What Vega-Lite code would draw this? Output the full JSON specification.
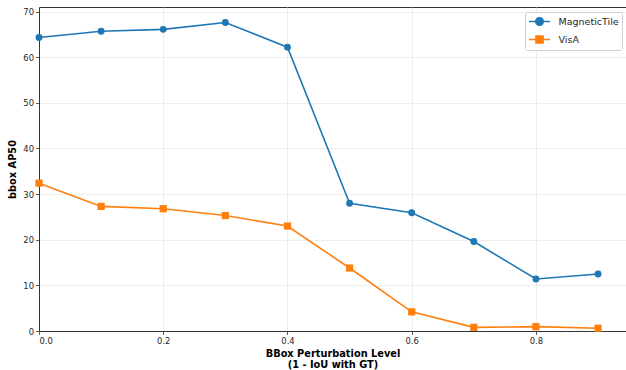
{
  "$schema": "https://vega.github.io/schema/vega-lite/v6.json",
  "width": 587,
  "height": 324,
  "autosize": {"type": "none"},
  "padding": {"left": 39, "top": 7, "right": 0, "bottom": 39},
  "background": "white",
  "config": {
    "font": "DejaVu Sans",
    "view": {"stroke": "#333333", "strokeWidth": 1},
    "axis": {
      "labelFont": "DejaVu Sans",
      "labelFontSize": 8.4,
      "labelColor": "#262626",
      "domainColor": "#333333",
      "domainWidth": 1,
      "tickColor": "#333333",
      "tickSize": 3.5,
      "tickWidth": 0.8,
      "gridColor": "#e8e8e8",
      "gridWidth": 0.8,
      "titleFont": "DejaVu Sans",
      "titleFontWeight": "bold",
      "titleFontSize": 9.8,
      "titleColor": "#000000"
    }
  },
  "data": {
    "values": [
      {"level": 0.0, "ap": 64.3, "dataset": "MagneticTile"},
      {"level": 0.1, "ap": 65.7, "dataset": "MagneticTile"},
      {"level": 0.2, "ap": 66.1, "dataset": "MagneticTile"},
      {"level": 0.3, "ap": 67.6, "dataset": "MagneticTile"},
      {"level": 0.4, "ap": 62.2, "dataset": "MagneticTile"},
      {"level": 0.5, "ap": 28.0, "dataset": "MagneticTile"},
      {"level": 0.6, "ap": 25.9, "dataset": "MagneticTile"},
      {"level": 0.7, "ap": 19.6, "dataset": "MagneticTile"},
      {"level": 0.8, "ap": 11.4, "dataset": "MagneticTile"},
      {"level": 0.9, "ap": 12.5, "dataset": "MagneticTile"},
      {"level": 0.0, "ap": 32.4, "dataset": "VisA"},
      {"level": 0.1, "ap": 27.3, "dataset": "VisA"},
      {"level": 0.2, "ap": 26.8, "dataset": "VisA"},
      {"level": 0.3, "ap": 25.3, "dataset": "VisA"},
      {"level": 0.4, "ap": 23.0, "dataset": "VisA"},
      {"level": 0.5, "ap": 13.8, "dataset": "VisA"},
      {"level": 0.6, "ap": 4.2, "dataset": "VisA"},
      {"level": 0.7, "ap": 0.8, "dataset": "VisA"},
      {"level": 0.8, "ap": 0.95, "dataset": "VisA"},
      {"level": 0.9, "ap": 0.6, "dataset": "VisA"}
    ]
  },
  "encoding": {
    "x": {
      "field": "level",
      "type": "quantitative",
      "scale": {"domain": [0, 0.945], "nice": false, "zero": false},
      "axis": {
        "values": [0, 0.2, 0.4, 0.6, 0.8],
        "format": ".1f",
        "title": ["BBox Perturbation Level", "(1 - IoU with GT)"],
        "titlePadding": 4,
        "titleLineHeight": 11,
        "labelPadding": 2
      }
    },
    "y": {
      "field": "ap",
      "type": "quantitative",
      "scale": {"domain": [0, 71], "nice": false},
      "axis": {
        "values": [0, 10, 20, 30, 40, 50, 60, 70],
        "title": "bbox AP50",
        "titlePadding": 5,
        "labelPadding": 2
      }
    },
    "color": {
      "field": "dataset",
      "type": "nominal",
      "scale": {"domain": ["MagneticTile", "VisA"], "range": ["#1f77b4", "#ff7f0e"]},
      "legend": {
        "title": null,
        "orient": "none",
        "legendX": 486,
        "legendY": 5,
        "direction": "vertical",
        "fillColor": "white",
        "strokeColor": "#d0d0d0",
        "cornerRadius": 2,
        "padding": 3,
        "rowPadding": 3,
        "labelFont": "DejaVu Sans",
        "labelFontSize": 9.5,
        "labelColor": "#262626",
        "labelOffset": 17.5,
        "symbolSize": 121,
        "symbolStrokeWidth": 1.5,
        "encode": {
          "symbols": {
            "update": {
              "shape": {"signal": "datum.value === 'MagneticTile' ? 'M-1,0H2.82M0.22,0A0.69,0.69 0 1,0 1.6,0A0.69,0.69 0 1,0 0.22,0Z' : 'M-1,0H2.82M0.26,-0.65H1.56V0.65H0.26Z'"},
              "fill": {"signal": "scale('color', datum.value)"},
              "stroke": {"signal": "scale('color', datum.value)"},
              "strokeWidth": {"value": 1.5},
              "size": {"value": 121},
              "opacity": {"value": 1}
            }
          }
        }
      }
    }
  },
  "layer": [
    {
      "mark": {"type": "line", "strokeWidth": 1.6, "clip": false}
    },
    {
      "transform": [{"filter": "datum.dataset === 'MagneticTile'"}],
      "mark": {"type": "point", "shape": "circle", "filled": true, "opacity": 1, "size": 48, "clip": false}
    },
    {
      "transform": [{"filter": "datum.dataset === 'VisA'"}],
      "mark": {"type": "point", "shape": "square", "filled": true, "opacity": 1, "size": 52, "clip": false}
    }
  ]
}
